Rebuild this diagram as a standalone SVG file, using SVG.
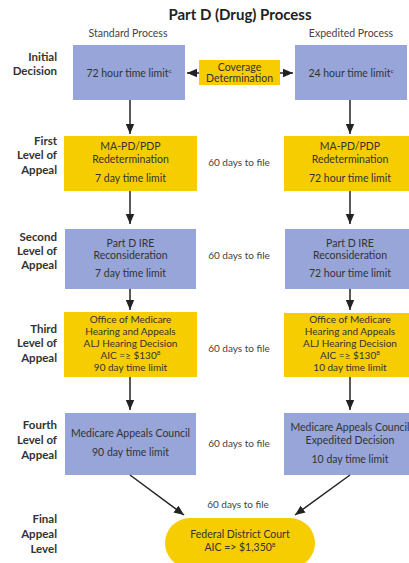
<svg xmlns="http://www.w3.org/2000/svg" width="409" height="563" viewBox="0 0 409 563">
<style>
.bg{fill:#ffffff}
.blue{fill:#97a5d8}
.yel{fill:#f6cd00}
.t{font-family:Lato,"Noto Sans","Liberation Sans",sans-serif;font-size:10.5px;fill:#333;text-anchor:middle}
.t3{font-size:10px}
.f{font-family:Lato,"Noto Sans","Liberation Sans",sans-serif;font-size:10px;fill:#444;text-anchor:middle}
.h{font-family:Lato,"Noto Sans","Liberation Sans",sans-serif;font-size:10.5px;fill:#444;text-anchor:middle}
.lab{font-family:Lato,"Noto Sans","Liberation Sans",sans-serif;font-size:11.5px;font-weight:bold;fill:#333;text-anchor:end}
.title{font-family:Lato,"Noto Sans","Liberation Sans",sans-serif;font-size:15px;font-weight:bold;fill:#222;text-anchor:middle}
.sup{font-size:6.5px}
.c line{stroke:#222;stroke-width:1.5;fill:none}
</style>
<defs>
<marker id="ah" markerUnits="userSpaceOnUse" markerWidth="10" markerHeight="10" viewBox="0 0 10 10" refX="10" refY="5" orient="auto">
<path d="M0,0.8 L10,5 L0,9.2 z" fill="#222"/>
</marker>
</defs>
<rect class="bg" width="409" height="563"/>
<text class="title" x="240" y="20">Part D (Drug) Process</text>
<text class="h" x="128" y="37">Standard Process</text>
<text class="h" x="351" y="37">Expedited Process</text>

<g id="labels">
<text class="lab" x="57" y="61">Initial</text>
<text class="lab" x="57" y="75">Decision</text>
<text class="lab" x="57" y="145">First</text>
<text class="lab" x="57" y="159">Level of</text>
<text class="lab" x="57" y="174">Appeal</text>
<text class="lab" x="57" y="241">Second</text>
<text class="lab" x="57" y="255">Level of</text>
<text class="lab" x="57" y="269">Appeal</text>
<text class="lab" x="57" y="333">Third</text>
<text class="lab" x="57" y="347">Level of</text>
<text class="lab" x="57" y="362">Appeal</text>
<text class="lab" x="57" y="429">Fourth</text>
<text class="lab" x="57" y="444">Level of</text>
<text class="lab" x="57" y="459">Appeal</text>
<text class="lab" x="57" y="523">Final</text>
<text class="lab" x="57" y="538">Appeal</text>
<text class="lab" x="57" y="553">Level</text>
</g>

<g id="files">
<text class="f" x="239" y="166">60 days to file</text>
<text class="f" x="239" y="259">60 days to file</text>
<text class="f" x="239" y="352">60 days to file</text>
<text class="f" x="239" y="447">60 days to file</text>
<text class="f" x="238" y="508">60 days to file</text>
</g>

<g id="init-std">
<rect class="blue" x="73" y="45" width="112" height="55"/>
<text class="t" x="129" y="77">72 hour time limit<tspan class="sup" dy="-4">c</tspan></text>
</g>
<g id="init-exp">
<rect class="blue" x="295" y="45" width="112" height="55"/>
<text class="t" x="351" y="77">24 hour time limit<tspan class="sup" dy="-4">c</tspan></text>
</g>
<g id="coverage">
<rect class="yel" x="199" y="60" width="81" height="25"/>
<text class="t" x="239.5" y="71">Coverage</text>
<text class="t" x="239.5" y="82">Determination</text>
</g>

<g id="l1-std">
<rect class="yel" x="64" y="136" width="133" height="55"/>
<text class="t" x="130.5" y="150">MA-PD/PDP</text>
<text class="t" x="130.5" y="163">Redetermination</text>
<text class="t" x="130.5" y="182">7 day time limit</text>
</g>
<g id="l1-exp">
<rect class="yel" x="284" y="136" width="133" height="55"/>
<text class="t" x="350" y="150">MA-PD/PDP</text>
<text class="t" x="350" y="163">Redetermination</text>
<text class="t" x="350" y="182">72 hour time limit</text>
</g>

<g id="l2-std">
<rect class="blue" x="65" y="229" width="131" height="60"/>
<text class="t" x="130.5" y="247">Part D IRE</text>
<text class="t" x="130.5" y="259">Reconsideration</text>
<text class="t" x="130.5" y="277">7 day time limit</text>
</g>
<g id="l2-exp">
<rect class="blue" x="285" y="229" width="131" height="60"/>
<text class="t" x="350" y="247">Part D IRE</text>
<text class="t" x="350" y="259">Reconsideration</text>
<text class="t" x="350" y="277">72 hour time limit</text>
</g>

<g id="l3-std">
<rect class="yel" x="64" y="312" width="133" height="65"/>
<text class="t t3" x="130.5" y="323">Office of Medicare</text>
<text class="t t3" x="130.5" y="335">Hearing and Appeals</text>
<text class="t t3" x="130.5" y="347">ALJ Hearing Decision</text>
<text class="t t3" x="130.5" y="359">AIC =≥ $130<tspan class="sup" dy="-4">8</tspan></text>
<text class="t t3" x="130.5" y="371">90 day time limit</text>
</g>
<g id="l3-exp">
<rect class="yel" x="284" y="313" width="133" height="64"/>
<text class="t t3" x="350" y="323">Office of Medicare</text>
<text class="t t3" x="350" y="335">Hearing and Appeals</text>
<text class="t t3" x="350" y="347">ALJ Hearing Decision</text>
<text class="t t3" x="350" y="359">AIC =≥ $130<tspan class="sup" dy="-4">8</tspan></text>
<text class="t t3" x="350" y="371">10 day time limit</text>
</g>

<g id="l4-std">
<rect class="blue" x="65" y="413" width="131" height="62"/>
<text class="t" x="130.5" y="437">Medicare Appeals Council</text>
<text class="t" x="130.5" y="456">90 day time limit</text>
</g>
<g id="l4-exp">
<rect class="blue" x="284" y="413" width="133" height="62"/>
<text class="t" x="350" y="431">Medicare Appeals Council</text>
<text class="t" x="350" y="444">Expedited Decision</text>
<text class="t" x="350" y="463">10 day time limit</text>
</g>

<g id="final">
<rect class="yel" x="165" y="518" width="150" height="50" rx="25"/>
<text class="t" x="240" y="538">Federal District Court</text>
<text class="t" x="240" y="551">AIC =&gt; $1,350<tspan class="sup" dy="-4">8</tspan></text>
</g>

<g class="c" id="connectors">
<line x1="199" y1="73" x2="187" y2="73" marker-end="url(#ah)"/>
<line x1="280" y1="73" x2="293" y2="73" marker-end="url(#ah)"/>
<line x1="130" y1="100" x2="130" y2="134" marker-end="url(#ah)"/>
<line x1="350" y1="100" x2="350" y2="134" marker-end="url(#ah)"/>
<line x1="130" y1="191" x2="130" y2="224" marker-end="url(#ah)"/>
<line x1="350" y1="191" x2="350" y2="224" marker-end="url(#ah)"/>
<line x1="130" y1="289" x2="130" y2="310" marker-end="url(#ah)"/>
<line x1="350" y1="289" x2="350" y2="310" marker-end="url(#ah)"/>
<line x1="130" y1="377" x2="130" y2="410" marker-end="url(#ah)"/>
<line x1="350" y1="377" x2="350" y2="410" marker-end="url(#ah)"/>
<line x1="130" y1="475" x2="184" y2="515" marker-end="url(#ah)"/>
<line x1="350" y1="475" x2="295" y2="515" marker-end="url(#ah)"/>
</g>
</svg>
